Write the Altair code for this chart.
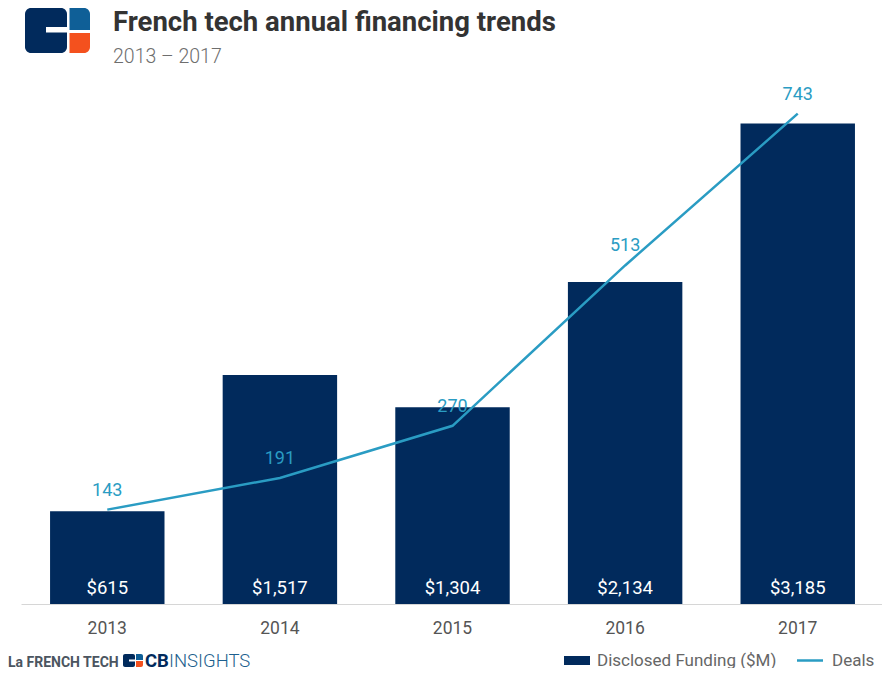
import altair as alt
import pandas as pd

# ---- data ----
years = ["2013", "2014", "2015", "2016", "2017"]
funding = [615, 1517, 1304, 2134, 3185]
deals = [143, 191, 270, 513, 743]

title_text = ["French tech annual financing trends"]
subtitle_text = ["2013 – 2017"]
legend_labels = ["Disclosed Funding ($M)", "Deals"]
footer_left = ["La FRENCH TECH"]
footer_cb = ["CB"]
footer_ins = ["INSIGHTS"]

NAVY = "#012a5c"
TEAL = "#2a9cc3"
BLUE = "#0f5f97"
ORANGE = "#f4511e"

df = pd.DataFrame({"year": years, "funding": funding, "deals": deals})

W, H = 861, 524

x_enc = alt.X(
    "year:N",
    title=None,
    scale=alt.Scale(paddingInner=0.337, paddingOuter=0.1625, align=0.518),
    axis=alt.Axis(
        labelAngle=0, ticks=False, labelFontSize=17.5, labelColor="#555555",
        labelPadding=15, domainColor="#d6d6d6", domainWidth=1, labelFont="Roboto",
    ),
)

base = alt.Chart(df)

bars = base.mark_bar(color=NAVY).encode(
    x=x_enc,
    y=alt.Y("funding:Q", scale=alt.Scale(domain=[0, 3473], nice=False), axis=None),
)

bar_text = base.mark_text(color="white", fontSize=18.5, baseline="alphabetic", font="Roboto").encode(
    x=alt.X("year:N"),
    y=alt.value(514),
    text=alt.Text("funding:Q", format="$,"),
)

line = base.mark_line(color=TEAL, strokeWidth=2.5).encode(
    x=alt.X("year:N"),
    y=alt.Y("deals:Q", scale=alt.Scale(domain=[0, 794], nice=False), axis=None),
)

line_text = base.mark_text(color=TEAL, fontSize=18, baseline="alphabetic", dy=-14, font="Roboto").encode(
    x=alt.X("year:N"),
    y=alt.Y("deals:Q", scale=alt.Scale(domain=[0, 794], nice=False), axis=None),
    text=alt.Text("deals:Q"),
)


def one(d):
    return alt.Chart(pd.DataFrame(d))


def rect(x1, x2, y1, y2, color, **kw):
    return one({"k": [0]}).mark_rect(color=color, **kw).encode(
        x=alt.value(x1), x2=alt.value(x2), y=alt.value(y1), y2=alt.value(y2)
    )


# ---- header logo ----
logo = [
    rect(4, 46, -72, -27, NAVY, cornerRadius=6),
    rect(25, 47, -53, -47.5, "white"),
    rect(48.5, 69, -72, -50, BLUE, cornerRadiusTopRight=6),
    rect(48.5, 69, -47, -27, ORANGE, cornerRadiusBottomRight=6),
]

title = one({"t": title_text}).mark_text(
    align="left", baseline="alphabetic", fontSize=27.5, fontWeight="bold",
    font="Roboto", color="#333333",
).encode(x=alt.value(92), y=alt.value(-49), text="t:N")

subtitle = one({"t": subtitle_text}).mark_text(
    align="left", baseline="alphabetic", fontSize=19.5, fontWeight=300,
    font="Roboto", color="#6e6e6e",
).encode(x=alt.value(92), y=alt.value(-17), text="t:N")

# ---- footer ----
fy = 587
left_foot = one({"t": footer_left}).mark_text(
    align="left", baseline="alphabetic", fontSize=14, fontWeight="bold",
    font="Roboto", color="#4b5560",
).encode(x=alt.value(-13), y=alt.value(fy), text="t:N")

cb_logo = [
    rect(102, 114, fy - 13, fy, NAVY, cornerRadius=2),
    rect(108, 114.5, fy - 7.5, fy - 5.5, "white"),
    rect(115, 122, fy - 13, fy - 7, BLUE, cornerRadiusTopRight=2),
    rect(115, 122, fy - 6, fy, ORANGE, cornerRadiusBottomRight=2),
]

cb_text = one({"t": footer_cb}).mark_text(
    align="left", baseline="alphabetic", fontSize=18.5, fontWeight="bold",
    font="Roboto", color=NAVY,
).encode(x=alt.value(124), y=alt.value(fy), text="t:N")

ins_text = one({"t": footer_ins}).mark_text(
    align="left", baseline="alphabetic", fontSize=18.5, fontWeight=300,
    font="Roboto", color="#1d5f8e",
).encode(x=alt.value(148), y=alt.value(fy), text="t:N")

# ---- legend ----
leg_y = 580.5
leg_rect = rect(543, 569, leg_y - 4.5, leg_y + 4.5, NAVY)
leg_t1 = one({"t": [legend_labels[0]]}).mark_text(
    align="left", baseline="middle", fontSize=17, font="Roboto", color="#666666",
).encode(x=alt.value(576), y=alt.value(leg_y), text="t:N")
leg_line = one({"k": [0]}).mark_rule(color=TEAL, strokeWidth=2.5).encode(
    x=alt.value(776), x2=alt.value(802), y=alt.value(leg_y)
)
leg_t2 = one({"t": [legend_labels[1]]}).mark_text(
    align="left", baseline="middle", fontSize=17, font="Roboto", color="#666666",
).encode(x=alt.value(811), y=alt.value(leg_y), text="t:N")

chart = alt.layer(
    bars, bar_text, line, line_text,
    *logo, title, subtitle,
    left_foot, *cb_logo, cb_text, ins_text,
    leg_rect, leg_t1, leg_line, leg_t2,
).resolve_scale(y="independent").properties(
    width=W, height=H,
    autosize=alt.AutoSizeParams(type="none"),
    padding={"left": 13, "top": 72, "right": 0, "bottom": 64},
).configure(font="Roboto", view=alt.ViewConfig(stroke=None))

chart.save("out.html", embed_options={"renderer": "svg", "actions": False})
